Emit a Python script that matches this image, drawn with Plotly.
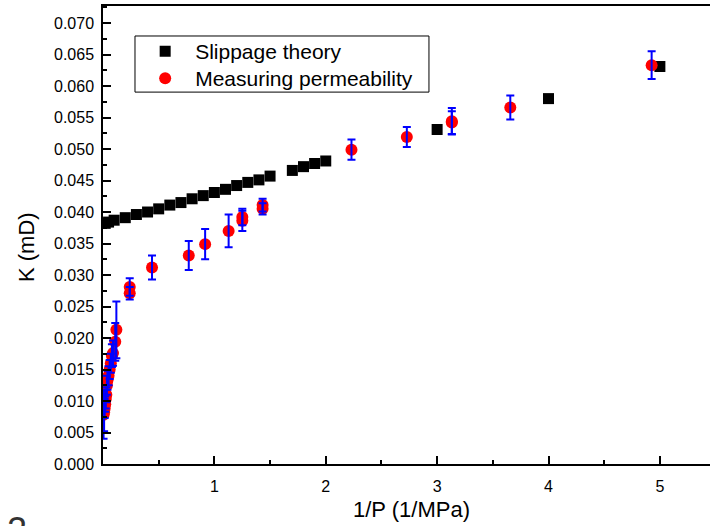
import plotly.graph_objects as go

# Slippage theory (black squares)
slip_x = [0.02, 0.05, 0.1, 0.2, 0.3, 0.4, 0.5, 0.6, 0.7, 0.8, 0.9, 1.0, 1.1, 1.2, 1.3, 1.4, 1.5,
          1.7, 1.8, 1.9, 2.0, 3.0, 4.0, 5.0]
slip_y = [0.0382, 0.0384, 0.0387, 0.0391, 0.0396, 0.0400, 0.0405, 0.0411, 0.0415, 0.0421, 0.0426,
          0.0431, 0.0436, 0.0442, 0.0447, 0.0451, 0.0457, 0.0466, 0.0472, 0.0477, 0.0481, 0.0531,
          0.0580, 0.0631]

# Measuring permeability (red circles, blue error bars)
meas_x = [0.005, 0.01, 0.015, 0.02, 0.025, 0.03, 0.035, 0.04, 0.05, 0.06, 0.07, 0.08, 0.09, 0.11, 0.12,
          0.24, 0.24, 0.44, 0.77, 0.917, 1.128, 1.251, 1.251, 1.433, 1.433, 2.231, 2.728, 3.132, 3.132,
          3.657, 4.926]
meas_y = [0.0078, 0.0082, 0.0088, 0.0095, 0.0103, 0.0110, 0.0125, 0.0133, 0.0140, 0.0150, 0.0160,
          0.0172, 0.0176, 0.0194, 0.0213,
          0.0281, 0.0271, 0.0312, 0.0331, 0.0349, 0.0370, 0.0392, 0.0386, 0.0411, 0.0405, 0.0499,
          0.0519, 0.0544, 0.0542, 0.0566, 0.0633]
meas_err = [0.0038, 0.0030, 0.0015, 0.0012, 0.0015, 0.0012, 0.0015, 0.0015, 0.0015, 0.0015, 0.0015,
            0.0018, 0.0020, 0.0030, 0.0045,
            0.0014, 0.0010, 0.0019, 0.0023, 0.0024, 0.0026, 0.0013, 0.0016, 0.0010, 0.0009, 0.0016,
            0.0016, 0.0021, 0.0018, 0.0019, 0.0022]

y_ticks = [i * 0.005 for i in range(15)]
y_ticklabels = ["%.3f" % v for v in y_ticks]
x_ticks = [1, 2, 3, 4, 5]
x_ticklabels = ["1", "2", "3", "4", "5"]

FONT = "Liberation Sans, Arial, sans-serif"

fig = go.Figure()
fig.add_trace(go.Scatter(
    x=slip_x, y=slip_y, mode="markers", name="Slippage theory", legend="legend",
    marker=dict(symbol="square", size=11, color="black"),
))
fig.add_trace(go.Scatter(
    x=meas_x, y=meas_y, mode="markers", name="Measuring permeability", legend="legend2",
    marker=dict(symbol="circle", size=12, color="#FF0000"),
))
fig.add_trace(go.Scatter(
    x=meas_x, y=meas_y, mode="markers", showlegend=False, hoverinfo="skip",
    marker=dict(size=1, color="rgba(0,0,0,0)"),
    error_y=dict(type="data", array=meas_err, visible=True, color="#0000FF", thickness=2, width=4),
))

legend_common = dict(
    xanchor="left", yanchor="top", bgcolor="rgba(0,0,0,0)", borderwidth=0,
    font=dict(size=21, family=FONT), itemwidth=50, tracegroupgap=0,
)

fig.update_layout(
    width=710, height=526,
    margin=dict(l=103, r=0, t=6, b=62),
    paper_bgcolor="white", plot_bgcolor="white",
    font=dict(family=FONT, size=16, color="black"),
    showlegend=True,
    legend=dict(x=0.053, y=0.9454, **legend_common),
    legend2=dict(x=0.053, y=0.8865, **legend_common),
    shapes=[dict(
        type="rect", xref="paper", yref="paper",
        x0=0.0527, x1=0.537, y0=0.812, y1=0.9345,
        line=dict(color="black", width=1), fillcolor="rgba(0,0,0,0)", layer="below",
    )],
    annotations=[
        dict(text="1/P (1/MPa)", xref="paper", yref="paper", x=0.509, y=-0.1,
             xanchor="center", yanchor="middle", showarrow=False,
             font=dict(size=22, family=FONT, color="black")),
        dict(text="K (mD)", xref="paper", yref="paper", x=-0.125, y=0.474, textangle=-90,
             xanchor="center", yanchor="middle", showarrow=False,
             font=dict(size=22, family=FONT, color="black")),
        dict(text="2", xref="paper", yref="paper", x=-0.1417, y=-0.096,
             xanchor="center", yanchor="top", showarrow=False,
             font=dict(size=36, color="#333333", family=FONT)),
    ],
)

fig.update_xaxes(
    range=[0, 5.45], showgrid=False, zeroline=False,
    showline=True, linecolor="black", linewidth=1.5, mirror=True,
    ticks="inside", ticklen=8, tickwidth=1.5, tickcolor="black",
    tickvals=x_ticks, ticktext=x_ticklabels, tickfont=dict(size=16),
    ticklabelstandoff=7,
    minor=dict(ticks="inside", ticklen=4, dtick=0.5, tick0=0, tickcolor="black", tickwidth=1.5),
)
fig.update_yaxes(
    range=[0, 0.0727], showgrid=False, zeroline=False,
    showline=True, linecolor="black", linewidth=1.5, mirror=False,
    ticks="inside", ticklen=8, tickwidth=1.5, tickcolor="black",
    tickvals=y_ticks, ticktext=y_ticklabels, tickfont=dict(size=16),
    ticklabelstandoff=4,
    minor=dict(ticks="inside", ticklen=4, dtick=0.0025, tick0=0, tickcolor="black", tickwidth=1.5),
)

fig.write_html("out.html")
